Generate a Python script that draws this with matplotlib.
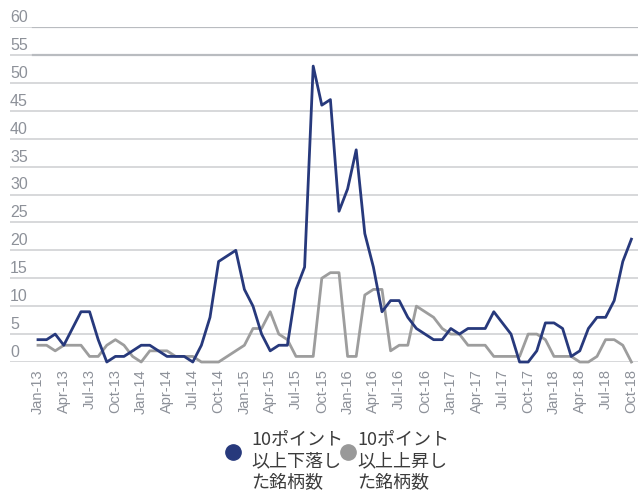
import matplotlib
matplotlib.use("Agg")
import matplotlib.pyplot as plt
from matplotlib.lines import Line2D

# Monthly series, Jan-13 .. Oct-18
month_names = ["Jan", "Feb", "Mar", "Apr", "May", "Jun",
               "Jul", "Aug", "Sep", "Oct", "Nov", "Dec"]
months = [f"{m}-{y:02d}" for y in range(13, 19) for m in month_names][:70]

# Number of stocks down 10 points or more
falls = [4, 4, 5, 3, 6, 9, 9, 4, 0, 1, 1, 2,
         3, 3, 2, 1, 1, 1, 0, 3, 8, 18, 19, 20,
         13, 10, 5, 2, 3, 3, 13, 17, 53, 46, 47, 27,
         31, 38, 23, 17, 9, 11, 11, 8, 6, 5, 4, 4,
         6, 5, 6, 6, 6, 9, 7, 5, 0, 0, 2, 7,
         7, 6, 1, 2, 6, 8, 8, 11, 18, 22]

# Number of stocks up 10 points or more
rises = [3, 3, 2, 3, 3, 3, 1, 1, 3, 4, 3, 1,
         0, 2, 2, 2, 1, 1, 1, 0, 0, 0, 1, 2,
         3, 6, 6, 9, 5, 4, 1, 1, 1, 15, 16, 16,
         1, 1, 12, 13, 13, 2, 3, 3, 10, 9, 8, 6,
         5, 5, 3, 3, 3, 1, 1, 1, 1, 5, 5, 4,
         1, 1, 1, 0, 0, 1, 4, 4, 3, 0]

yticks = [0, 5, 10, 15, 20, 25, 30, 35, 40, 45, 50, 55, 60]
legend_labels = ["10ポイント\n以上下落し\nた銘柄数", "10ポイント\n以上上昇し\nた銘柄数"]

blue = "#27397c"
grey = "#9d9d9d"

W, H = 640, 496
fig = plt.figure(figsize=(W / 100, H / 100), dpi=100)

left_px, right_px = 10, 638
top_px, zero_px = 27, 362
ax = fig.add_axes([left_px / W, 1 - zero_px / H,
                   (right_px - left_px) / W, (zero_px - top_px) / H])

step = (631.4 - 38) / 69
ax.set_xlim(-(38 - left_px) / step, 69 + (right_px - 631.4) / step)
ax.set_ylim(0, 60)
for s in ax.spines.values():
    s.set_visible(False)

for v in yticks:
    ax.axhline(v, color="#d4d6d8", lw=1.3, zorder=0)
    ax.annotate(str(v), xy=(0, v), xycoords=("axes fraction", "data"),
                xytext=(0, 1.5), textcoords="offset points",
                ha="left", va="bottom", fontsize=11.5,
                color="#8d9199", family="Liberation Sans")
# the two top rules are drawn a shade darker past the label column
for v in (55, 60):
    ax.axhline(v, xmin=(33 - left_px) / (right_px - left_px),
               color="#b9bcc0", lw=1.6, zorder=0)

x = list(range(len(months)))
ax.plot(x, rises, color=grey, lw=2.0, clip_on=False, zorder=2)
ax.plot(x, falls, color=blue, lw=2.0, clip_on=False, zorder=3)

ax.set_yticks([])
ax.set_xticks(x[::3])
ax.set_xticklabels(months[::3], rotation=90, fontsize=10.5,
                   color="#8d9199", family="Liberation Sans")
ax.tick_params(axis="x", length=0, pad=5)

# legend
cjk = ["Noto Sans CJK JP", "DejaVu Sans"]
for (cx, tx), col, lab in zip([(233, 251), (348, 357)], [blue, "#999999"], legend_labels):
    fig.add_artist(Line2D([cx / W], [1 - 452 / H], marker="o", markersize=11,
                          color=col, linestyle="none", transform=fig.transFigure))
    fig.text(tx / W, 1 - 431 / H, lab, ha="left", va="top", fontsize=13,
             color="#3c3c3c", family=cjk, linespacing=1.2)

fig.savefig("out.png", dpi=100)
